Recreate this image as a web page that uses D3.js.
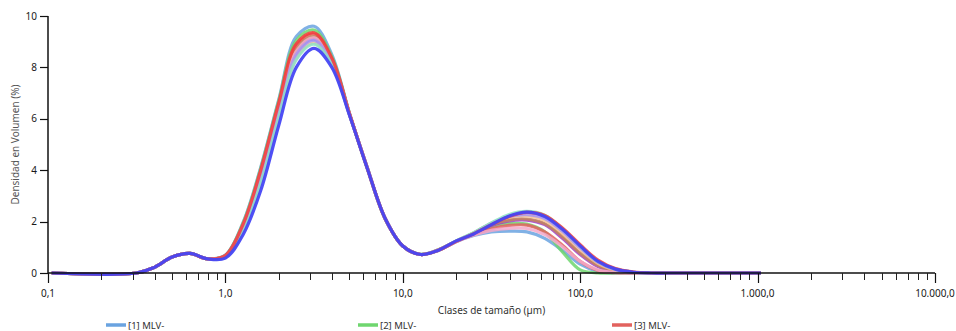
<!DOCTYPE html>
<html>
<head>
<meta charset="utf-8">
<script src="https://cdn.jsdelivr.net/npm/d3@7"></script>
<style>
  html, body { margin: 0; padding: 0; background: #fff; }
  svg { display: block; }
  text { font-family: "Noto Sans", "DejaVu Sans", sans-serif; }
</style>
</head>
<body>
<svg id="chart" width="956" height="331"></svg>
<script>
// Size classes (µm) shared by every measurement
const sizes = [0.105, 0.316, 0.398, 0.501, 0.631, 0.794, 1.0, 1.26, 1.58, 2.0, 2.51, 3.16, 3.98,
  5.01, 6.31, 7.94, 10.0, 12.6, 15.8, 20.0, 25.1, 31.6, 39.8, 50.1, 63.1, 79.4, 100, 126, 158,
  200, 251, 316, 1045];

// Volume density (%) per measurement
const mlv1 = [0, 0, 0.22, 0.62, 0.76, 0.55, 0.7, 1.98, 4.1, 6.75, 9.2, 9.6, 8.5, 6.21, 4.1, 2.14,
  1.06, 0.73, 0.89, 1.22, 1.46, 1.6, 1.63, 1.6, 1.35, 0.88, 0.35, 0.06, 0, 0, 0, 0, 0];
const mlv2 = [0, 0, 0.22, 0.62, 0.76, 0.55, 0.69, 1.95, 4.05, 6.7, 9.05, 9.45, 8.42, 6.2, 4.08, 2.12,
  1.05, 0.73, 0.9, 1.24, 1.55, 1.8, 1.92, 1.9, 1.6, 0.82, 0.12, 0, 0, 0, 0, 0, 0];
const mlv3 = [0, 0, 0.22, 0.62, 0.76, 0.55, 0.68, 1.88, 3.95, 6.58, 8.85, 9.3, 8.34, 6.18, 4.08, 2.13,
  1.05, 0.72, 0.89, 1.23, 1.5, 1.72, 1.85, 1.86, 1.6, 1.08, 0.45, 0.1, 0.01, 0, 0, 0, 0];
const mlv4 = [0, 0, 0.22, 0.62, 0.76, 0.55, 0.65, 1.76, 3.72, 6.32, 8.56, 9.1, 8.22, 6.17, 4.08, 2.13,
  1.05, 0.72, 0.88, 1.23, 1.53, 1.85, 2.03, 2.06, 1.88, 1.35, 0.72, 0.25, 0.06, 0.01, 0, 0, 0];
const mlv5 = [0, 0, 0.22, 0.62, 0.76, 0.55, 0.66, 1.8, 3.8, 6.42, 8.68, 9.2, 8.28, 6.17, 4.07, 2.12,
  1.05, 0.72, 0.88, 1.23, 1.54, 1.88, 2.07, 2.1, 1.92, 1.42, 0.78, 0.3, 0.08, 0.01, 0, 0, 0];
const mlv6 = [0, 0, 0.22, 0.62, 0.76, 0.55, 0.67, 1.84, 3.86, 6.48, 8.62, 9.15, 8.25, 6.17, 4.08, 2.13,
  1.05, 0.72, 0.89, 1.22, 1.48, 1.66, 1.74, 1.73, 1.5, 1.02, 0.45, 0.12, 0.02, 0, 0, 0, 0];
const mlv7 = [0, 0, 0.22, 0.62, 0.76, 0.55, 0.63, 1.68, 3.55, 6.14, 8.36, 8.95, 8.14, 6.15, 4.07, 2.13,
  1.05, 0.72, 0.88, 1.24, 1.56, 1.94, 2.17, 2.22, 2.05, 1.55, 0.92, 0.38, 0.12, 0.02, 0, 0, 0];
const mlv8 = [0, 0, 0.22, 0.62, 0.76, 0.55, 0.64, 1.72, 3.64, 6.24, 8.5, 9.05, 8.2, 6.16, 4.08, 2.13,
  1.05, 0.72, 0.88, 1.24, 1.56, 1.94, 2.2, 2.27, 2.12, 1.62, 0.98, 0.42, 0.13, 0.03, 0, 0, 0];
const mlv9 = [0, 0, 0.22, 0.62, 0.76, 0.55, 0.62, 1.64, 3.48, 6.05, 8.3, 8.9, 8.12, 6.15, 4.07, 2.13,
  1.05, 0.72, 0.88, 1.25, 1.57, 1.95, 2.28, 2.4, 2.25, 1.72, 1.05, 0.45, 0.15, 0.03, 0, 0, 0];
const mlv10 = [0, 0, 0.22, 0.62, 0.76, 0.55, 0.68, 1.9, 3.98, 6.62, 8.92, 9.35, 8.36, 6.19, 4.08, 2.13,
  1.05, 0.72, 0.88, 1.23, 1.53, 1.88, 2.2, 2.36, 2.24, 1.75, 1.1, 0.5, 0.17, 0.04, 0, 0, 0];
const mlv11 = [0, 0, 0.22, 0.62, 0.76, 0.55, 0.58, 1.5, 3.2, 5.75, 8.0, 8.74, 8.0, 6.13, 4.07, 2.13,
  1.05, 0.72, 0.88, 1.25, 1.52, 1.88, 2.22, 2.37, 2.2, 1.7, 1.05, 0.45, 0.15, 0.03, 0, 0, 0];

const seriesValues = [mlv1, mlv2, mlv3, mlv4, mlv5, mlv6, mlv7, mlv8, mlv9, mlv10, mlv11];
const seriesNames = ["[1] MLV-", "[2] MLV-", "[3] MLV-", "[4] MLV-", "[5] MLV-", "[6] MLV-",
  "[7] MLV-", "[8] MLV-", "[9] MLV-", "[10] MLV-", "[11] MLV-"];
const seriesColors = ["#6aa3e0", "#6fd66f", "#e2625e", "#a040c4", "#c2845a", "#f3a8ca",
  "#f8c28e", "#a698f2", "#8de2c6", "#f23c3c", "#4646f4"];

// Axis ticks
const xMajorTicks = [0.1, 1, 10, 100, 1000, 10000];
const xTickLabels = ["0,1", "1,0", "10,0", "100,0", "1.000,0", "10.000,0"];
const yTicks = [0, 2, 4, 6, 8, 10];
const xTitle = "Clases de tamaño (µm)";
const yTitle = "Densidad en Volumen (%)";

const svg = d3.select("#chart");
const plotLeft = 48, plotRight = 935, plotTop = 16, plotBottom = 273;

const x = d3.scaleLog().domain([0.1, 10000]).range([plotLeft, plotRight]);
const y = d3.scaleLinear().domain([0, 10]).range([plotBottom, plotTop]);

// Minor ticks 2..9 inside each decade
const xMinorTicks = [];
for (let i = 0; i < xMajorTicks.length - 1; i++) {
  for (let m = 2; m <= 9; m++) xMinorTicks.push(xMajorTicks[i] * m);
}

const axisColor = "#111";
const labelColor = "#1a1a1a";

// Distribution curves (drawn first so the axes sit on top)
const line = d3.line()
  .x((d, i) => x(sizes[i]))
  .y(d => y(d))
  .curve(d3.curveCatmullRom.alpha(0.5));

svg.append("g").selectAll("path")
  .data(seriesValues)
  .join("path")
  .attr("d", d => line(d))
  .attr("fill", "none")
  .attr("stroke", (d, i) => seriesColors[i])
  .attr("stroke-width", 3.2)
  .attr("stroke-linejoin", "round")
  .attr("stroke-opacity", (d, i) => i === seriesValues.length - 1 ? 0.95 : 0.85);

const axes = svg.append("g");

// X axis line
axes.append("line")
  .attr("x1", plotLeft).attr("x2", plotRight).attr("y1", plotBottom).attr("y2", plotBottom)
  .attr("stroke", axisColor).attr("stroke-width", 1.5);

// Minor x ticks
axes.selectAll("line.minor").data(xMinorTicks).join("line").attr("class", "minor")
  .attr("x1", d => Math.round(x(d)) + 0.5).attr("x2", d => Math.round(x(d)) + 0.5)
  .attr("y1", plotBottom).attr("y2", plotBottom + 7)
  .attr("stroke", "#222").attr("stroke-width", 1);

// Major x ticks
axes.selectAll("line.major").data(xMajorTicks).join("line").attr("class", "major")
  .attr("x1", d => Math.round(x(d)) + 0.5).attr("x2", d => Math.round(x(d)) + 0.5)
  .attr("y1", plotBottom).attr("y2", plotBottom + 10)
  .attr("stroke", axisColor).attr("stroke-width", 1.2);

axes.selectAll("text.xlab").data(xMajorTicks).join("text").attr("class", "xlab")
  .attr("x", d => x(d)).attr("y", 297).attr("text-anchor", "middle")
  .attr("font-size", 10).attr("fill", labelColor)
  .text((d, i) => xTickLabels[i]);

// Y axis line and ticks
axes.append("line")
  .attr("x1", plotLeft).attr("x2", plotLeft).attr("y1", plotTop).attr("y2", plotBottom)
  .attr("stroke", axisColor).attr("stroke-width", 1.5);

axes.selectAll("line.ytick").data(yTicks).join("line").attr("class", "ytick")
  .attr("x1", plotLeft - 8).attr("x2", plotLeft)
  .attr("y1", d => Math.round(y(d)) + 0.5).attr("y2", d => Math.round(y(d)) + 0.5)
  .attr("stroke", axisColor).attr("stroke-width", 1.2);

axes.selectAll("text.ylab").data(yTicks).join("text").attr("class", "ylab")
  .attr("x", plotLeft - 11).attr("y", d => y(d) + 3.5).attr("text-anchor", "end")
  .attr("font-size", 10).attr("fill", labelColor)
  .text(d => d);

// Axis titles
svg.append("text").attr("x", (plotLeft + plotRight) / 2).attr("y", 314)
  .attr("text-anchor", "middle").attr("font-size", 10).attr("fill", "#333").text(xTitle);
svg.append("text").attr("transform", `translate(19,${(plotTop + plotBottom) / 2}) rotate(-90)`)
  .attr("text-anchor", "middle").attr("font-size", 10).attr("fill", "#555").text(yTitle);

// Legend (first row)
const legendX = [106, 358, 612];
const legend = svg.append("g");
legendX.forEach((lx, i) => {
  legend.append("line").attr("x1", lx).attr("x2", lx + 20).attr("y1", 325).attr("y2", 325)
    .attr("stroke", seriesColors[i]).attr("stroke-width", 3.5);
  legend.append("text").attr("x", lx + 22).attr("y", 329).attr("font-size", 9.5)
    .attr("fill", "#333").text(seriesNames[i]);
});
</script>
</body>
</html>
